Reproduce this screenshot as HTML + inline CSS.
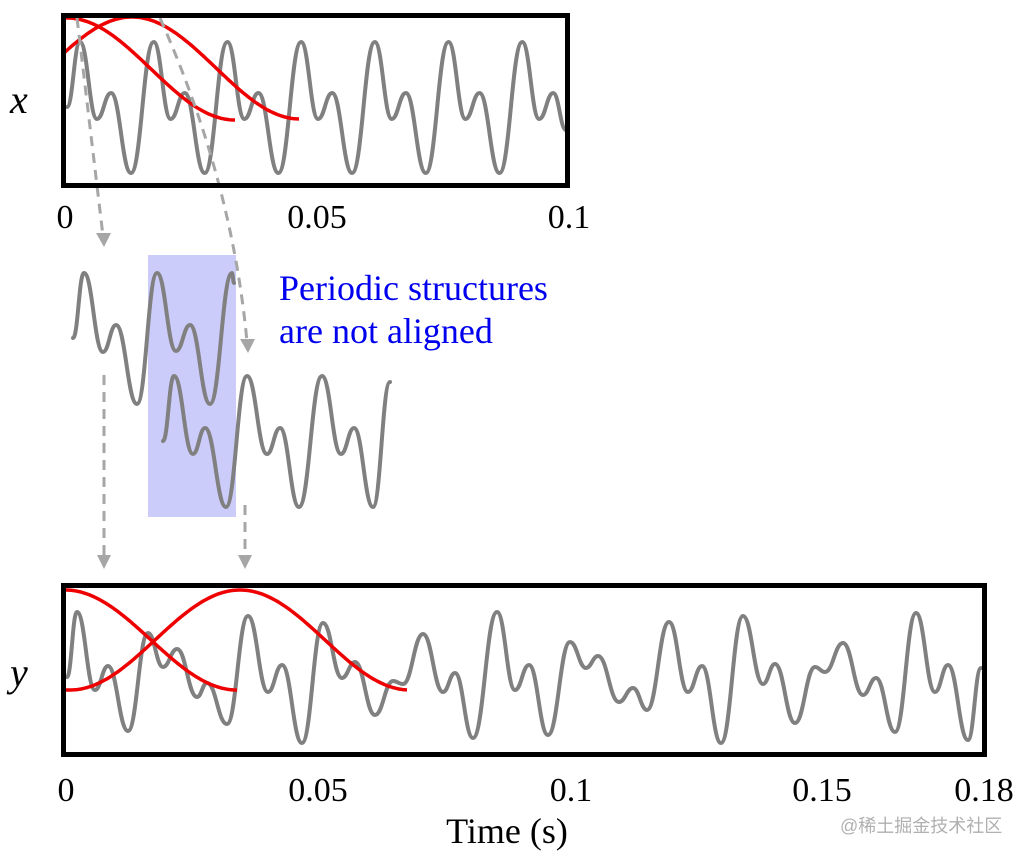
<!DOCTYPE html>
<html><head><meta charset="utf-8"><style>
html,body{margin:0;padding:0;background:#fff;}
svg{display:block}
text{font-family:"Liberation Serif",serif;}
</style></head><body>
<svg id="s" width="1024" height="860" viewBox="0 0 1024 860" xmlns="http://www.w3.org/2000/svg">
<rect x="148" y="255" width="88" height="262" fill="#ccccfa"/>
<g id="g" fill="none" stroke="#808080" stroke-width="4" stroke-linecap="round"></g>
<g id="r" fill="none" stroke="#ee0000" stroke-width="3.5"></g>
<g fill="none" stroke="#a6a6a6" stroke-width="3" stroke-dasharray="10,7">
<path d="M77,18 L103,236"/>
<path d="M160,18 Q232,180 247,342"/>
<path d="M104,375 L104,556"/>
<path d="M245,505 L245,556"/>
</g>
<g fill="#a6a6a6">
<polygon points="96,233 111,233 104,247"/>
<polygon points="240,339 255,339 248,353"/>
<polygon points="97,555 111,555 104,569"/>
<polygon points="238,555 252,555 245,569"/>
</g>
<rect x="63.5" y="15.5" width="504" height="170" fill="none" stroke="#000" stroke-width="5"/>
<rect x="63.5" y="585.5" width="921" height="169" fill="none" stroke="#000" stroke-width="5"/>
<g font-size="34" text-anchor="middle">
<text x="65" y="228">0</text><text x="317" y="228">0.05</text><text x="569" y="228">0.1</text>
<text x="66" y="801">0</text><text x="318" y="801">0.05</text><text x="571" y="801">0.1</text><text x="822" y="801">0.15</text><text x="984" y="801">0.18</text>
</g>
<text x="507" y="843" font-size="36" text-anchor="middle">Time (s)</text>
<text x="10" y="113" font-size="40" font-style="italic">x</text>
<text x="10" y="686" font-size="40" font-style="italic">y</text>
<text x="279" y="300" font-size="36" fill="#0000ee">Periodic structures</text>
<text x="279" y="343" font-size="36" fill="#0000ee">are not aligned</text>
<text x="840" y="832" font-size="18" fill="#b0b0b0" style='font-family:"Liberation Sans","Noto Sans CJK SC",sans-serif'>@稀土掘金技术社区</text>
</svg>
<script>
function smooth(p){var d="M"+p[0][0]+","+p[0][1];for(var i=1;i<p.length;i++){var a=p[i-1],b=p[i],h=(b[0]-a[0])*0.45;d+=" C"+(a[0]+h)+","+a[1]+" "+(b[0]-h)+","+b[1]+" "+b[0]+","+b[1];}return d;}
var g=document.getElementById("g"),r=document.getElementById("r");
function add(par,d){var e=document.createElementNS("http://www.w3.org/2000/svg","path");e.setAttribute("d",d);par.appendChild(e);}
var P=73.7,off=[[0,42],[17,119],[31,93],[51,173]],pts=[[67,107]];
for(var k=0;k<8;k++){for(var j=0;j<4;j++){var xx=80+k*P+off[j][0];if(xx<566)pts.push([xx,off[j][1]]);}}
pts.push([566,130]);add(g,smooth(pts));
add(g,smooth([[73,338],[84,273],[103,352],[116,325],[137,404],[157,273],[176,351],[190,325],[210,404],[232,273],[234,283]]));
add(g,smooth([[163,441],[174,376],[193,454],[205,428],[226,507],[247,376],[267,454],[280,428],[299,507],[322,376],[341,454],[354,428],[373,507],[390,382]]));
add(g,smooth([[67,677],[77,612],[95,690],[108,666],[128,731],[148,633],[163,667],[177,649],[197,697],[207,683],[227,724],[248,616],[268,692],[282,665],[302,743],[323,623],[342,678],[355,662],[375,715],[393,681],[403,684],[423,634],[443,692],[455,673],[473,738],[497,612],[515,690],[529,665],[548,735],[570,642],[586,668],[598,656],[619,702],[633,688],[647,710],[669,622],[688,692],[702,666],[721,743],[743,616],[763,684],[775,664],[795,723],[815,667],[825,672],[843,643],[863,695],[876,678],[895,732],[916,613],[935,692],[948,665],[968,740],[981,668]]));
function win(c,hw,top,bot,x0,x1){var d="";for(var x=x0;x<=x1;x+=2){var ph=(x-c)/hw*Math.PI;if(ph<-Math.PI)ph=-Math.PI;if(ph>Math.PI)ph=Math.PI;var y=top+(bot-top)*(1-Math.cos(ph))/2;d+=(d?"L":"M")+x+","+y.toFixed(1);}return d;}
add(r,win(67,168,18,120,65,235));
add(r,win(132,168,17,119,65,300));
add(r,win(65,172,590,690,65,237));
add(r,win(240,170,590,690,65,408));
</script>
</body></html>
